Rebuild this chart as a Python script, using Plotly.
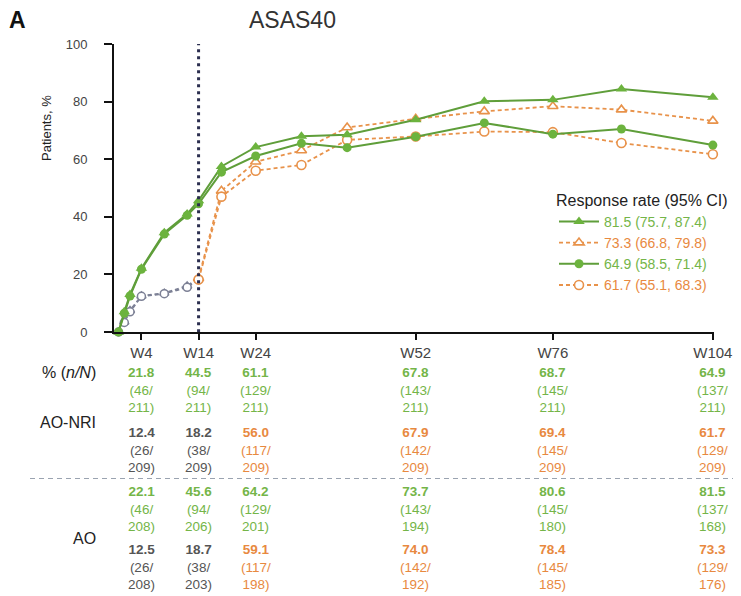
import plotly.graph_objects as go

# ---------------- data ----------------
weeks_active = [0, 1, 2, 4, 8, 12, 14, 18, 24, 32, 40, 52, 64, 76, 88, 104]
ao_active = [0, 7, 13, 22.1, 34.5, 41, 45.6, 57.5, 64.2, 68, 68.5, 73.7, 80.1, 80.6, 84.4, 81.5]
nri_active = [0, 6.5, 12.5, 21.8, 34, 40.5, 44.5, 55.5, 61.1, 65.5, 64, 67.8, 72.6, 68.7, 70.5, 64.9]

weeks_pbo = [0, 1, 2, 4, 8, 12, 14]
ao_pbo = [0, 3.5, 7.5, 12.5, 13.5, 16, 18.7]
nri_pbo = [0, 3.3, 7, 12.4, 13.3, 15.5, 18.2]

weeks_switch = [14, 18, 24, 32, 40, 52, 64, 76, 88, 104]
ao_switch = [18.7, 49, 59.1, 63, 71, 74.0, 76.6, 78.4, 77.2, 73.3]
nri_switch = [18.2, 47, 56.0, 58, 66.7, 67.9, 69.6, 69.4, 65.6, 61.7]

legend_labels = ["81.5 (75.7, 87.4)", "73.3 (66.8, 79.8)",
                 "64.9 (58.5, 71.4)", "61.7 (55.1, 68.3)"]

tick_weeks = [4, 14, 24, 52, 76, 104]
tick_labels = ["W4", "W14", "W24", "W52", "W76", "W104"]
switch_week = 14

nri_act_pct = [21.8, 44.5, 61.1, 67.8, 68.7, 64.9]
nri_act_n = [46, 94, 129, 143, 145, 137]
nri_act_N = [211, 211, 211, 211, 211, 211]
nri_pbo_pct = [12.4, 18.2, 56.0, 67.9, 69.4, 61.7]
nri_pbo_n = [26, 38, 117, 142, 145, 129]
nri_pbo_N = [209, 209, 209, 209, 209, 209]
ao_act_pct = [22.1, 45.6, 64.2, 73.7, 80.6, 81.5]
ao_act_n = [46, 94, 129, 143, 145, 137]
ao_act_N = [208, 206, 201, 194, 180, 168]
ao_pbo_pct = [12.5, 18.7, 59.1, 74.0, 78.4, 73.3]
ao_pbo_n = [26, 38, 117, 142, 145, 129]
ao_pbo_N = [208, 203, 198, 192, 185, 176]

# ---------------- style ----------------
GREEN = "#6cb33e"
GREEN_LINE = "#5f9e3a"
ORANGE = "#e8924a"
GRAY = "#7c8095"
GREEN_TXT = "#74b548"
ORANGE_TXT = "#e8893f"
GRAY_TXT = "#555555"
FONT = "Arial, Liberation Sans, sans-serif"

# page has an 8px body margin: the figure is sized to the visible window
OFF = 8
W, H = 741 - OFF, 596 - OFF
ML = 114 - OFF           # plot left edge (screen 114)
MT = 44 - OFF            # plot top edge (screen 44)
PB = 332 - OFF           # plot bottom edge (screen 332)
PR = 714 - OFF           # plot right edge (screen 714)
MR = W - PR
MB = H - PB
PH = PB - MT
PW = PR - ML


def py(ypix):
    """screen y pixel -> paper coordinate"""
    return (PB - (ypix - OFF)) / PH


def px(xpix):
    """screen x pixel -> paper coordinate"""
    return ((xpix - OFF) - ML) / PW


fig = go.Figure()

# placebo (gray)
fig.add_trace(go.Scatter(
    x=weeks_pbo, y=ao_pbo, mode="lines+markers", showlegend=False,
    line=dict(color=GRAY, width=1.8, dash="4px,3px"),
    marker=dict(symbol="triangle-up", size=8, color="white", line=dict(color=GRAY, width=1.5)),
    cliponaxis=False))
fig.add_trace(go.Scatter(
    x=weeks_pbo, y=nri_pbo, mode="lines+markers", showlegend=False,
    line=dict(color=GRAY, width=1.8, dash="4px,3px"),
    marker=dict(symbol="circle", size=8, color="white", line=dict(color=GRAY, width=1.5)),
    cliponaxis=False))

# switch (orange)
fig.add_trace(go.Scatter(
    x=weeks_switch, y=ao_switch, mode="lines+markers", legendrank=2,
    name=f"<span style='color:{ORANGE_TXT}'>{legend_labels[1]}</span>",
    line=dict(color=ORANGE, width=1.8, dash="4px,3px"),
    marker=dict(symbol="triangle-up", size=9, color="white", line=dict(color=ORANGE, width=1.6)),
    cliponaxis=False))
fig.add_trace(go.Scatter(
    x=weeks_switch, y=nri_switch, mode="lines+markers", legendrank=4,
    name=f"<span style='color:{ORANGE_TXT}'>{legend_labels[3]}</span>",
    line=dict(color=ORANGE, width=1.8, dash="4px,3px"),
    marker=dict(symbol="circle", size=9, color="white", line=dict(color=ORANGE, width=1.6)),
    cliponaxis=False))

# active (green)
fig.add_trace(go.Scatter(
    x=weeks_active, y=ao_active, mode="lines+markers", legendrank=1,
    name=f"<span style='color:{GREEN_TXT}'>{legend_labels[0]}</span>",
    line=dict(color=GREEN_LINE, width=2),
    marker=dict(symbol="triangle-up", size=10, color=GREEN),
    cliponaxis=False))
fig.add_trace(go.Scatter(
    x=weeks_active, y=nri_active, mode="lines+markers", legendrank=3,
    name=f"<span style='color:{GREEN_TXT}'>{legend_labels[2]}</span>",
    line=dict(color=GREEN_LINE, width=2),
    marker=dict(symbol="circle", size=9, color=GREEN),
    cliponaxis=False))

# dotted switch line
fig.add_shape(type="line", xref="x", yref="y", x0=switch_week, x1=switch_week, y0=-2.5, y1=100,
              line=dict(color="#2b2e4f", width=3, dash="3px,4px"), layer="above")

annotations = []
annotations.append(dict(text="A", x=px(7), y=py(20), xref="paper", yref="paper",
                        xanchor="left", yanchor="middle", showarrow=False,
                        font=dict(family=FONT, size=23, color="#111111", weight="bold")))
annotations.append(dict(text="ASAS40", x=px(292), y=py(20), xref="paper", yref="paper",
                        xanchor="center", yanchor="middle", showarrow=False,
                        font=dict(family=FONT, size=23, color="#333333")))
annotations.append(dict(text="Patients, %", x=px(47), y=py(128), xref="paper", yref="paper",
                        xanchor="center", yanchor="middle", showarrow=False, textangle=-90,
                        font=dict(family=FONT, size=13, color="#222222")))

# table row labels
for txt, ypix in [("% (<i>n/N</i>)", 372), ("AO-NRI", 422), ("AO", 538)]:
    annotations.append(dict(text=txt, x=px(98), y=py(ypix), xref="paper", yref="paper",
                            xanchor="right", yanchor="middle", showarrow=False,
                            font=dict(family=FONT, size=16, color="#222222")))

rows = [
    (nri_act_pct, nri_act_n, nri_act_N, 390, False),
    (nri_pbo_pct, nri_pbo_n, nri_pbo_N, 450, True),
    (ao_act_pct, ao_act_n, ao_act_N, 508.5, False),
    (ao_pbo_pct, ao_pbo_n, ao_pbo_N, 567, True),
]
for pct, n, N, ymid, is_pbo in rows:
    for wk, p, a, b in zip(tick_weeks, pct, n, N):
        if is_pbo:
            col = GRAY_TXT if wk <= switch_week else ORANGE_TXT
        else:
            col = GREEN_TXT
        annotations.append(dict(
            text=f"<b>{p:.1f}</b><br>({a}/<br>{b})", x=wk, y=py(ymid), xref="x", yref="paper",
            xanchor="center", yanchor="middle", showarrow=False, align="center",
            font=dict(family=FONT, size=13.5, color=col)))

fig.add_shape(type="line", xref="paper", yref="paper", x0=px(30), x1=px(741),
              y0=py(478.5), y1=py(478.5), line=dict(color="#9aa3b0", width=1.2, dash="5px,4px"))

fig.update_layout(
    width=W, height=H, margin=dict(l=ML, r=MR, t=MT, b=MB, autoexpand=False),
    paper_bgcolor="white", plot_bgcolor="white",
    font=dict(family=FONT, color="#333333"),
    annotations=annotations,
    showlegend=True,
    legend=dict(
        x=px(730), y=py(185), xanchor="right", yanchor="top",
        bgcolor="rgba(0,0,0,0)", itemwidth=40,
        font=dict(family=FONT, size=14),
        title=dict(text="Response rate (95% CI)", font=dict(family=FONT, size=16, color="#222222")),
    ),
    xaxis=dict(range=[-0.8, 104.2], showgrid=False, zeroline=False, automargin=False,
               showline=True, linecolor="#111111", linewidth=2,
               tickmode="array", tickvals=tick_weeks, ticktext=tick_labels,
               ticks="outside", ticklen=6, tickwidth=2, tickcolor="#111111",
               tickfont=dict(family=FONT, size=15, color="#444444")),
    yaxis=dict(range=[0, 100], showgrid=False, zeroline=False, automargin=False,
               showline=True, linecolor="#111111", linewidth=2,
               tickmode="array", tickvals=[0, 20, 40, 60, 80, 100],
               ticks="outside", ticklen=8, tickwidth=2, tickcolor="#111111",
               ticklabelstandoff=14,
               tickfont=dict(family=FONT, size=13, color="#444444")),
)

fig.write_html("out.html")
